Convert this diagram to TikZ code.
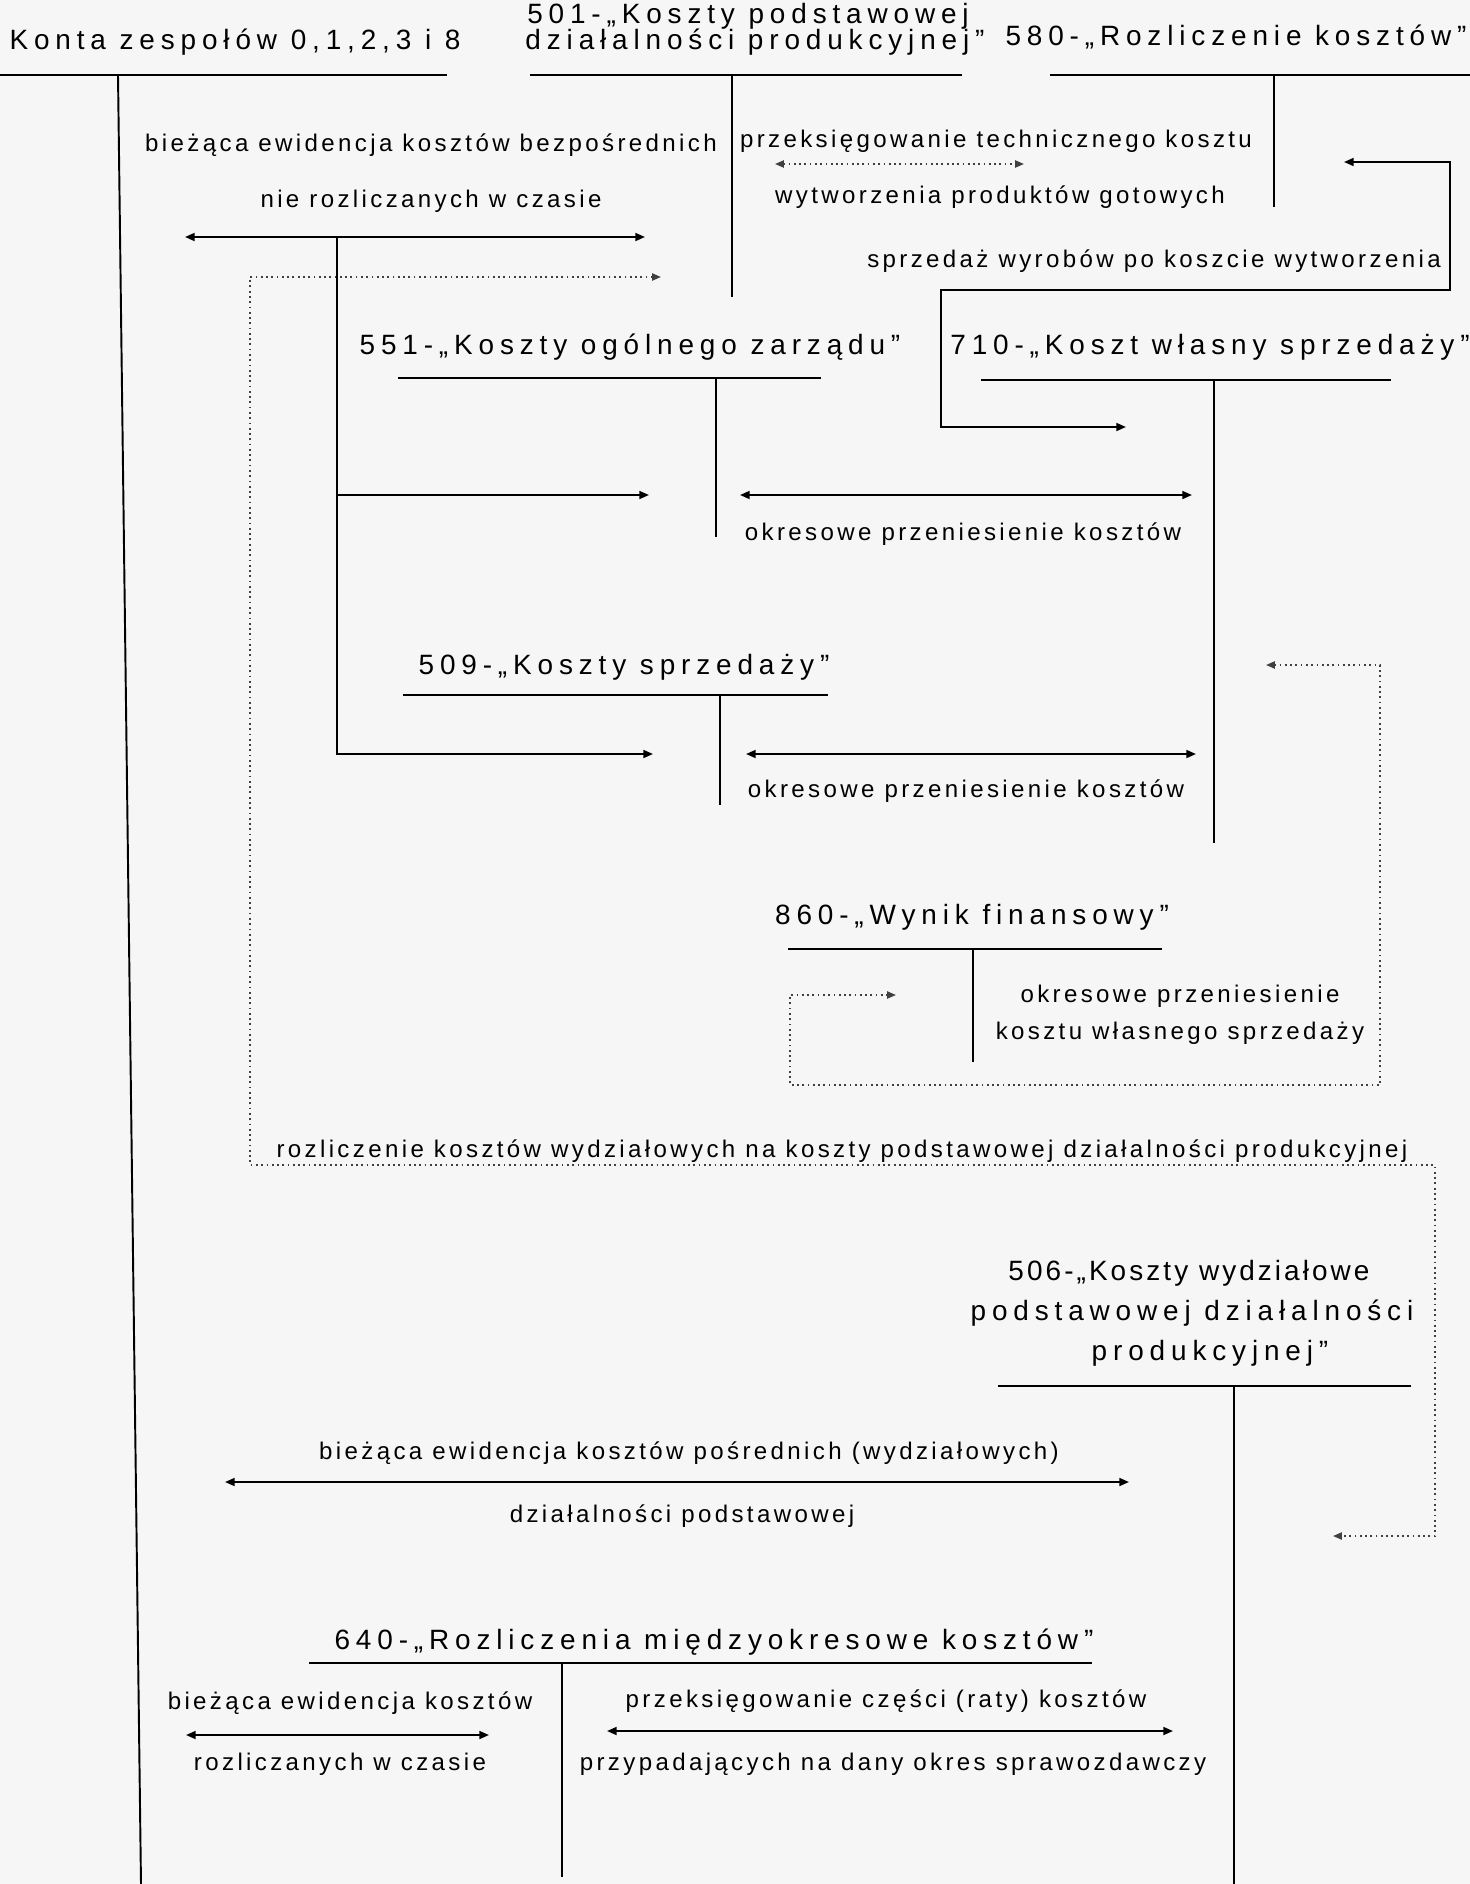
\documentclass[tikz,border=0pt]{standalone}
\usepackage{fontspec}
\setmainfont{Liberation Sans}
\newfontfamily\accfont{Liberation Sans}[LetterSpace=21]
\newfontfamily\tightfont{Liberation Sans}[LetterSpace=11]
\newfontfamily\notefont{Liberation Sans}[LetterSpace=14]
\usetikzlibrary{arrows.meta}

\tikzset{
    account/.style={font=\accfont\fontsize{15.9}{19}\selectfont, anchor=base, inner sep=0pt},
    tightacc/.style={account, font=\tightfont\fontsize{15.9}{19}\selectfont},
    note/.style={font=\notefont\fontsize{13.7}{16}\selectfont, anchor=base, inner sep=0pt},
    tline/.style={line width=1.5pt},
    tstem/.style={line width=1.1pt},
    flow/.style={line width=1.1pt, {Triangle[length=5.5pt,width=4.5pt]}-{Triangle[length=5.5pt,width=4.5pt]}},
    oneway/.style={line width=1.1pt, -{Triangle[length=5.5pt,width=4.5pt]}},
    dotflow/.style={line width=1pt, dotted, black!75, {Triangle[length=5pt,width=4pt]}-{Triangle[length=5pt,width=4pt]}}
}

\begin{document}
\begin{tikzpicture}[x=0.02cm, y=-0.02cm]
    % Sheet
    \fill[gray!7] (0,0) rectangle (1470,1884);
    \useasboundingbox (0,0) rectangle (1470,1884);

    % Account titles
    \node[account] (konta) at (235,49) {Konta zespołów 0,1,2,3 i 8};
    \node[account] (t501a) at (748,23) {501-„Koszty podstawowej};
    \node[account] (t501b) at (755,49) {działalności produkcyjnej”};
    \node[account] (t580) at (1236,45) {580-„Rozliczenie kosztów”};
    \node[account] (t551) at (630,354) {551-„Koszty ogólnego zarządu”};
    \node[account] (t710) at (1210,354) {710-„Koszt własny sprzedaży”};
    \node[account] (t509) at (624,674) {509-„Koszty sprzedaży”};
    \node[account] (t860) at (972,924) {860-„Wynik finansowy”};
    \node[tightacc] (t506a) at (1189,1280) {506-„Koszty wydziałowe};
    \node[account] (t506b) at (1192,1320) {podstawowej działalności};
    \node[account] (t506c) at (1210,1360) {produkcyjnej”};
    \node[account] (t640) at (714,1649) {640-„Rozliczenia międzyokresowe kosztów”};

    % Posting texts
    \node[note] (n1) at (431,151) {bieżąca ewidencja kosztów bezpośrednich};
    \node[note] (n2) at (431,207) {nie rozliczanych w czasie};
    \node[note] (n3) at (996,147) {przeksięgowanie technicznego kosztu};
    \node[note] (n4) at (1000,203) {wytworzenia produktów gotowych};
    \node[note] (n5) at (1154,267) {sprzedaż wyrobów po koszcie wytworzenia};
    \node[note] (n6) at (963,540) {okresowe przeniesienie kosztów};
    \node[note] (n7) at (966,797) {okresowe przeniesienie kosztów};
    \node[note] (n8) at (1180,1002) {okresowe przeniesienie};
    \node[note] (n9) at (1180,1039) {kosztu własnego sprzedaży};
    \node[note] (n10) at (842,1157) {rozliczenie kosztów wydziałowych na koszty podstawowej działalności produkcyjnej};
    \node[note] (n11) at (689,1459) {bieżąca ewidencja kosztów pośrednich (wydziałowych)};
    \node[note] (n12) at (682,1522) {działalności podstawowej};
    \node[note] (n13) at (350,1709) {bieżąca ewidencja kosztów};
    \node[note] (n14) at (340,1770) {rozliczanych w czasie};
    \node[note] (n15) at (886,1707) {przeksięgowanie części (raty) kosztów};
    \node[note] (n16) at (893,1770) {przypadających na dany okres sprawozdawczy};

    % T-account corners
    \coordinate (k-l) at (0,75);       \coordinate (k-r) at (447,75);
    \coordinate (k-t) at (118,75);     \coordinate (k-b) at (141,1884);
    \coordinate (a501-l) at (530,75);  \coordinate (a501-r) at (962,75);
    \coordinate (a501-t) at (732,75);  \coordinate (a501-b) at (732,297);
    \coordinate (a580-l) at (1050,75); \coordinate (a580-r) at (1470,75);
    \coordinate (a580-t) at (1274,75); \coordinate (a580-b) at (1274,207);
    \coordinate (a551-l) at (398,378); \coordinate (a551-r) at (821,378);
    \coordinate (a551-t) at (716,378); \coordinate (a551-b) at (716,537);
    \coordinate (a710-l) at (981,380); \coordinate (a710-r) at (1391,380);
    \coordinate (a710-t) at (1214,380); \coordinate (a710-b) at (1214,843);
    \coordinate (a509-l) at (403,695); \coordinate (a509-r) at (828,695);
    \coordinate (a509-t) at (720,695); \coordinate (a509-b) at (720,805);
    \coordinate (a860-l) at (788,949); \coordinate (a860-r) at (1162,949);
    \coordinate (a860-t) at (973,949); \coordinate (a860-b) at (973,1062);
    \coordinate (a506-l) at (998,1386); \coordinate (a506-r) at (1411,1386);
    \coordinate (a506-t) at (1234,1386); \coordinate (a506-b) at (1234,1884);
    \coordinate (a640-l) at (309,1663); \coordinate (a640-r) at (1092,1663);
    \coordinate (a640-t) at (562,1663); \coordinate (a640-b) at (562,1877);

    % T-accounts
    \draw[tline] (k-l) -- (k-r);        \draw[tstem] (k-t) -- (k-b);
    \draw[tline] (a501-l) -- (a501-r);  \draw[tstem] (a501-t) -- (a501-b);
    \draw[tline] (a580-l) -- (a580-r);  \draw[tstem] (a580-t) -- (a580-b);
    \draw[tline] (a551-l) -- (a551-r);  \draw[tstem] (a551-t) -- (a551-b);
    \draw[tline] (a710-l) -- (a710-r);  \draw[tstem] (a710-t) -- (a710-b);
    \draw[tline] (a509-l) -- (a509-r);  \draw[tstem] (a509-t) -- (a509-b);
    \draw[tline] (a860-l) -- (a860-r);  \draw[tstem] (a860-t) -- (a860-b);
    \draw[tline] (a506-l) -- (a506-r);  \draw[tstem] (a506-t) -- (a506-b);
    \draw[tline] (a640-l) -- (a640-r);  \draw[tstem] (a640-t) -- (a640-b);

    % Posting ends
    \coordinate (d1-l) at (185,237);   \coordinate (d1-r) at (645,237);
    \coordinate (br-t) at (337,237);   \coordinate (br-m) at (337,495);
    \coordinate (br-b) at (337,754);
    \coordinate (e551) at (649,495);   \coordinate (e509) at (653,754);
    \coordinate (c551-l) at (740,495); \coordinate (c551-r) at (1192,495);
    \coordinate (c509-l) at (746,754); \coordinate (c509-r) at (1196,754);
    \coordinate (t580-l) at (775,164); \coordinate (t580-r) at (1024,164);
    \coordinate (s1) at (1344,162);    \coordinate (s2) at (1450,290);
    \coordinate (s3) at (941,427);     \coordinate (s4) at (1126,427);
    \coordinate (w1) at (1266,665);    \coordinate (w2) at (1380,1085);
    \coordinate (w3) at (790,995);     \coordinate (w4) at (896,995);
    \coordinate (r1) at (661,277);     \coordinate (r2) at (250,1165);
    \coordinate (r3) at (1435,1536);   \coordinate (r4) at (1333,1536);
    \coordinate (p506-l) at (225,1482); \coordinate (p506-r) at (1129,1482);
    \coordinate (m-l) at (186,1735);   \coordinate (m-r) at (489,1735);
    \coordinate (q-l) at (607,1731);   \coordinate (q-r) at (1173,1731);

    % Solid postings
    \draw[flow] (d1-l) -- (d1-r);
    \draw[oneway] (br-t) -- (br-b) -- (e509);
    \draw[oneway] (br-m) -- (e551);
    \draw[flow] (c551-l) -- (c551-r);
    \draw[flow] (c509-l) -- (c509-r);
    \draw[flow] (s1) -| (s2) -| (s3) -- (s4);
    \draw[flow] (p506-l) -- (p506-r);
    \draw[flow] (m-l) -- (m-r);
    \draw[flow] (q-l) -- (q-r);

    % Dotted postings
    \draw[dotflow] (t580-l) -- (t580-r);
    \draw[dotflow] (w1) -| (w2) -| (w3) -- (w4);
    \draw[dotflow] (r1) -| (r2) -| (r3) -- (r4);
\end{tikzpicture}
\end{document}
